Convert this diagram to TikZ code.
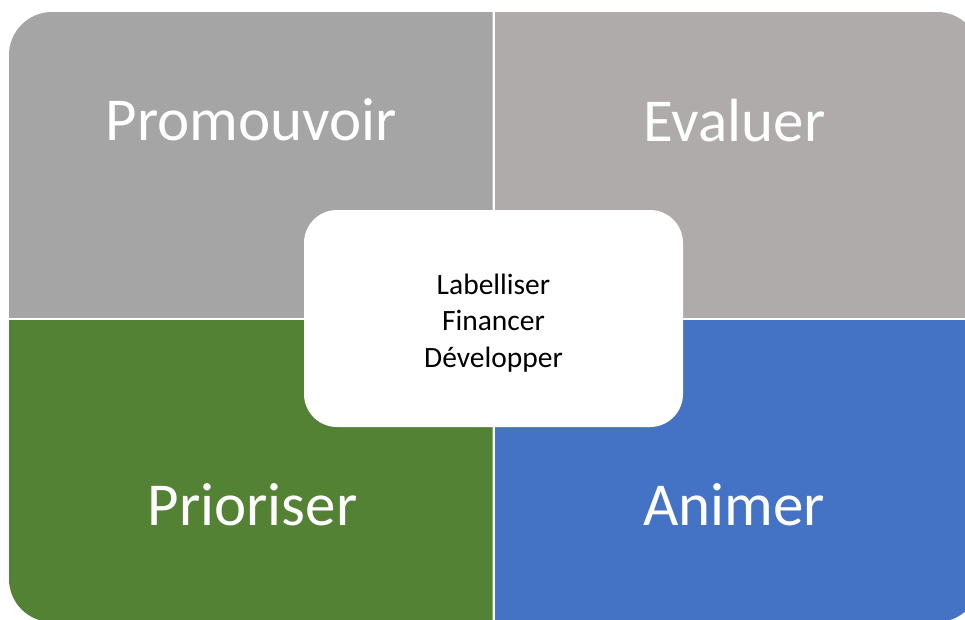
\documentclass[tikz,border=0pt]{standalone}
\usepackage{fontspec}
\setmainfont{Carlito}
\definecolor{qTL}{HTML}{A5A5A5}
\definecolor{qTR}{HTML}{AFABAB}
\definecolor{qBL}{HTML}{548235}
\definecolor{qBR}{HTML}{4472C4}
\begin{document}
\begin{tikzpicture}[x=1pt,y=-1pt,
  outer/.style={rounded corners=43pt},
  bigtext/.style={text=white, inner sep=0pt, anchor=base, font=\fontsize{61}{64}\selectfont},
  corebox/.style={fill=white, rounded corners=33pt, inner sep=0pt,
    minimum width=379pt, minimum height=217pt},
  coretext/.style={text=black, inner sep=0pt, align=center,
    font=\fontsize{29.5}{36.5}\selectfont}]
\useasboundingbox (0,0) rectangle (965,619);
\clip (0,0) rectangle (965,619);
% quadrants: the outer rounded rectangle, clipped to each quarter
\begin{scope}
  \clip (0,0) rectangle (492.5,317.5);
  \fill[qTL, outer] (9,12) rectangle (980,622);
\end{scope}
\begin{scope}
  \clip (495,0) rectangle (990,317.5);
  \fill[qTR, outer] (9,12) rectangle (980,622);
\end{scope}
\begin{scope}
  \clip (0,320) rectangle (492.5,640);
  \fill[qBL, outer] (9,12) rectangle (980,622);
\end{scope}
\begin{scope}
  \clip (495,320) rectangle (990,640);
  \fill[qBR, outer] (9,12) rectangle (980,622);
\end{scope}
\node[bigtext] (promouvoir) at (251.5,140) {Promouvoir};
\node[bigtext] (evaluer) at (734.5,141) {Evaluer};
\node[bigtext] (prioriser) at (252.5,525) {Prioriser};
\node[bigtext] (animer) at (734,525) {Animer};
\node[corebox] (core) at (493.5,318.5) {};
\node[coretext] (coretxt) at (493.5,323) {Labelliser\\Financer\\Développer};
\end{tikzpicture}
\end{document}
